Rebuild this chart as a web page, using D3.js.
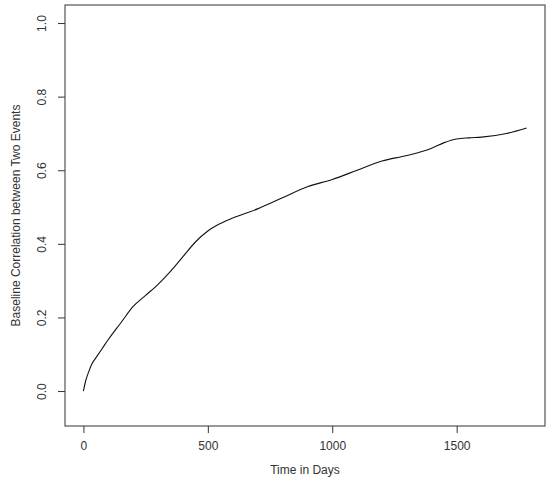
<!DOCTYPE html><html><head><meta charset="utf-8"><script src="https://d3js.org/d3.v7.min.js"></script>
<style>body{margin:0;background:#fff}text{font-family:"Liberation Sans",Arial,sans-serif;fill:#333}</style></head><body>
<svg id="c" width="550" height="485"></svg>
<script>
const days=[0,10,20,35,50,75,100,150,200,250,300,350,400,450,500,550,600,700,800,900,1000,1100,1200,1300,1400,1450,1500,1550,1600,1700,1781];
const corr=[0,0.03,0.05,0.075,0.09,0.115,0.14,0.185,0.23,0.26,0.29,0.325,0.365,0.405,0.435,0.455,0.47,0.495,0.525,0.555,0.575,0.6,0.625,0.64,0.66,0.675,0.685,0.688,0.69,0.7,0.715];
const xTicks=[0,500,1000,1500];
const yTicks=[0,0.2,0.4,0.6,0.8,1.0];
const svg=d3.select("#c");
const L=65,R=545,T=5,B=426;
const x=d3.scaleLinear().domain([-74,1855]).range([L,R]);
const y=d3.scaleLinear().domain([-0.095,1.049]).range([B,T]);
svg.append("rect").attr("x",L).attr("y",T).attr("width",R-L).attr("height",B-T).attr("fill","none").attr("stroke","#333");
const xa=svg.append("g").attr("transform",`translate(0,${B})`).call(d3.axisBottom(x).tickValues(xTicks).tickSize(7).tickPadding(8).tickFormat(d3.format("d")));
const ya=svg.append("g").attr("transform",`translate(${L},0)`).call(d3.axisLeft(y).tickValues(yTicks).tickSize(7).tickFormat(d3.format(".1f")));
[xa,ya].forEach(a=>{a.select(".domain").remove();a.selectAll("line").attr("stroke","#333");a.selectAll("text").attr("font-size",12).attr("font-family","Liberation Sans,Arial").style("fill","#333");});
ya.selectAll(".tick text").attr("transform",function(){const t=d3.select(this.parentNode).attr("transform");return null}).each(function(){const s=d3.select(this);s.attr("text-anchor","middle").attr("x",0).attr("dy",0).attr("transform","translate(-19,0) rotate(-90)");});
svg.append("path").datum(days.map((d,i)=>[d,corr[i]])).attr("fill","none").attr("stroke","#111").attr("stroke-width",1.1)
 .attr("d",d3.line().x(d=>x(d[0])).y(d=>y(d[1])).curve(d3.curveMonotoneX));
svg.append("text").attr("x",(L+R)/2).attr("y",474).attr("text-anchor","middle").attr("font-size",12).text("Time in Days");
svg.append("text").attr("transform",`translate(20,${(T+B)/2}) rotate(-90)`).attr("text-anchor","middle").attr("font-size",12).text("Baseline Correlation between Two Events");
</script></body></html>
